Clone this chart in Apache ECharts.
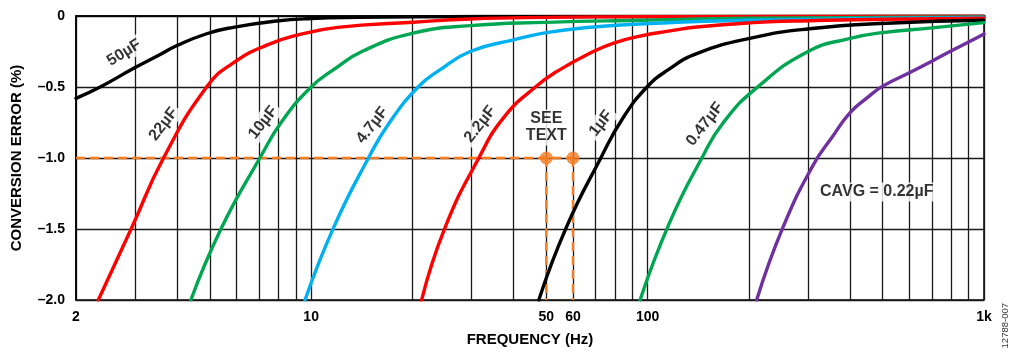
<!DOCTYPE html>
<html>
<head>
<meta charset="utf-8">
<script src="https://cdn.jsdelivr.net/npm/echarts@6/dist/echarts.min.js"></script>
<style>
  html, body { margin: 0; padding: 0; background: #fff; }
  #chart { width: 1009px; height: 352px; }
</style>
</head>
<body>
<div id="chart"></div>
<script>
// Conversion error (%) versus input frequency (Hz), one curve per averaging capacitor
const cap50uF  = [[2, -0.58], [2.36, -0.50], [2.96, -0.37], [3.5, -0.28], [3.98, -0.21], [4.89, -0.125], [5.87, -0.08], [7.9, -0.035], [10, -0.018], [14, -0.01], [20, -0.006], [50, -0.003], [1000, -0.001]];
const cap22uF  = [[2.33, -2.0], [2.93, -1.49], [3.64, -1.0], [4.89, -0.5], [5.87, -0.33], [7.38, -0.205], [9.26, -0.13], [12, -0.08], [20.1, -0.044], [29.7, -0.021], [50, -0.01], [100, -0.005], [1000, -0.002]];
const cap10uF  = [[4.39, -2.0], [5.42, -1.49], [7.04, -1.0], [8.2, -0.74], [10, -0.5], [11.66, -0.378], [14.3, -0.245], [20.1, -0.121], [29.7, -0.068], [50, -0.045], [95, -0.03], [200, -0.016], [1000, -0.006]];
const cap4u7F  = [[9.59, -2.0], [11.66, -1.49], [14.8, -1.0], [17.1, -0.75], [20.8, -0.5], [24.2, -0.378], [29.7, -0.25], [40, -0.168], [50, -0.117], [67.6, -0.079], [95, -0.056], [200, -0.03], [1000, -0.01]];
const cap2u2F  = [[21.3, -2.0], [25, -1.49], [31.5, -1.0], [37.5, -0.71], [46.4, -0.5], [53.8, -0.39], [67.6, -0.261], [79.3, -0.191], [95, -0.142], [116.6, -0.105], [140, -0.077], [206, -0.047], [303, -0.033], [514, -0.023], [1000, -0.016]];
const cap1uF   = [[47.5, -2.0], [57.3, -1.49], [72.6, -1.0], [84.4, -0.72], [99.6, -0.5], [115, -0.38], [140, -0.265], [206, -0.152], [303, -0.09], [514, -0.051], [1000, -0.03]];
const cap0u47F = [[95, -2.0], [116, -1.46], [145, -1.0], [168, -0.75], [210, -0.51], [300, -0.25], [400, -0.158], [500, -0.117], [700, -0.084], [1000, -0.047]];
const cap0u22F = [[211, -2.0], [252, -1.494], [310, -1.054], [356, -0.844], [400, -0.68], [450, -0.575], [500, -0.494], [600, -0.40], [700, -0.318], [800, -0.245], [900, -0.183], [1000, -0.126]];

// 50 Hz / 60 Hz operating points at -1 % error
const refPoints = [[50, -1.0], [60, -1.0]];
const refStartFreq = 2;

// Axis ticks
const xTickLabels = [2, 10, 50, 60, 100, 1000];
const xGridFreqs = [2, 3, 4, 5, 6, 7, 8, 9, 10, 20, 30, 40, 50, 60, 70, 80, 90, 100, 200, 300, 400, 500, 600, 700, 800, 900, 1000];
const yMin = -2.0, yMax = 0, yStep = 0.5;

// Curve annotations: [frequency, error, text, rotation]
const curveLabels = [
  [2.78, -0.259, '50µF', 32],
  [3.64, -0.762, '22µF', 52],
  [7.2, -0.75, '10µF', 52],
  [15.2, -0.77, '4.7µF', 52],
  [31.8, -0.762, '2.2µF', 52],
  [50, -0.785, 'SEE\nTEXT', 0],
  [72.7, -0.755, '1µF', 52],
  [148, -0.762, '0.47µF', 52],
  [480, -1.24, 'CAVG = 0.22µF', 0]
];

const FONT = '"Liberation Sans", Arial, Helvetica, sans-serif';
const lg = Math.log10;
const toLog = pts => pts.map(([f, e]) => [lg(f), e]);

function curve(name, pts, color) {
  return {
    name, type: 'line', data: toLog(pts), showSymbol: false, symbol: 'none',
    smooth: 0.5, z: 5,
    lineStyle: { color, width: 3.4, cap: 'round', join: 'round' }
  };
}

const orange = '#f47b20';
const dashStyle = { color: orange, width: 2.4, type: [9, 5] };

const chart = echarts.init(document.getElementById('chart'), null, { renderer: 'canvas' });

chart.setOption({
  animation: false,
  backgroundColor: '#fff',
  grid: { left: 76, right: 25, top: 16, bottom: 50, show: true, borderColor: '#000', borderWidth: 1.5, backgroundColor: 'transparent' },
  xAxis: {
    type: 'value',
    min: lg(2), max: 3,
    name: 'FREQUENCY (Hz)', nameLocation: 'middle', nameGap: 32,
    nameTextStyle: { fontFamily: FONT, fontWeight: 'bold', fontSize: 15, color: '#000' },
    axisLine: { show: true, lineStyle: { color: '#000', width: 1.5 } },
    axisTick: { show: false, customValues: xGridFreqs.map(lg) },
    axisLabel: {
      customValues: xTickLabels.map(lg), margin: 10,
      fontFamily: FONT, fontWeight: 'bold', fontSize: 14, color: '#000',
      formatter: v => { const f = Math.round(Math.pow(10, v)); return f === 1000 ? '1k' : String(f); }
    },
    splitLine: { show: true, lineStyle: { color: '#1a1a1a', width: 1.3 } }
  },
  yAxis: {
    type: 'value', min: yMin, max: yMax, interval: yStep,
    name: 'CONVERSION ERROR (%)', nameLocation: 'middle', nameGap: 52,
    nameTextStyle: { fontFamily: FONT, fontWeight: 'bold', fontSize: 15, color: '#000' },
    axisLine: { show: true, lineStyle: { color: '#000', width: 1.5 } },
    axisTick: { show: false },
    axisLabel: {
      margin: 11, fontFamily: FONT, fontWeight: 'bold', fontSize: 14, color: '#000',
      formatter: v => v === 0 ? '0' : '\u2013' + Math.abs(v).toFixed(1)
    },
    splitLine: { show: true, lineStyle: { color: '#1a1a1a', width: 1.3 } }
  },
  series: [
    // dashed reference lines to the 50 Hz and 60 Hz points
    { type: 'line', data: toLog([[refStartFreq, refPoints[0][1]], refPoints[1]]), symbol: 'none', z: 3, lineStyle: dashStyle },
    { type: 'line', data: toLog([refPoints[0], [refPoints[0][0], yMin]]), symbol: 'none', z: 3, lineStyle: dashStyle },
    { type: 'line', data: toLog([refPoints[1], [refPoints[1][0], yMin]]), symbol: 'none', z: 3, lineStyle: dashStyle },
    curve('50µF', cap50uF, '#000000'),
    curve('22µF', cap22uF, '#ff0000'),
    curve('10µF', cap10uF, '#00a651'),
    curve('4.7µF', cap4u7F, '#00b0f0'),
    curve('2.2µF', cap2u2F, '#ff0000'),
    curve('1µF', cap1uF, '#000000'),
    curve('0.47µF', cap0u47F, '#00a651'),
    curve('0.22µF', cap0u22F, '#7030a0'),
    {
      type: 'scatter', data: toLog(refPoints), symbol: 'circle', symbolSize: 13, z: 8,
      itemStyle: { color: orange }
    },
    {
      type: 'scatter', z: 7, symbolSize: 0, silent: true,
      data: curveLabels.map(([f, e, text, rot]) => ({ value: [lg(f), e], text,
        label: { rotate: rot } })),
      label: {
        show: true, position: 'inside', formatter: p => p.data.text,
        fontFamily: FONT, fontWeight: 'bold', fontSize: 16, color: '#000', lineHeight: 17,
        align: 'center', verticalAlign: 'middle',
        backgroundColor: '#fff', padding: [1, 3]
      }
    }
  ],
  graphic: [{
    type: 'text', left: 1000, top: 303, rotation: Math.PI / 2,
    style: { text: '12788-007', fontFamily: FONT, fontSize: 9.5, fill: '#333' }
  }]
});
</script>
</body>
</html>
